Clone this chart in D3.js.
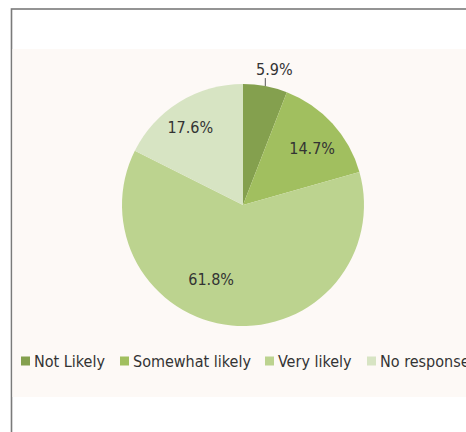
<!DOCTYPE html>
<html>
<head>
<meta charset="utf-8">
<script src="https://cdn.jsdelivr.net/npm/d3@7/dist/d3.min.js"></script>
<style>
  html, body { margin: 0; padding: 0; background: #ffffff; }
  svg { display: block; }
  text { font-family: "DejaVu Sans Condensed", "DejaVu Sans", sans-serif; font-stretch: condensed; fill: #333333; }
</style>
</head>
<body>
<svg id="chart" width="466" height="432"></svg>
<script>
// Survey responses (percent of respondents)
const categories = ["Not Likely", "Somewhat likely", "Very likely", "No response"];
const shares = [5.9, 14.7, 61.8, 17.6];
const palette = ["#84a04e", "#a1bf5f", "#bcd38f", "#d7e4c3"];

const W = 466, H = 432;
const svg = d3.select("#chart");

// outer frame
svg.append("rect")
  .attr("x", 11.5).attr("y", 9).attr("width", W + 20).attr("height", H + 20)
  .attr("fill", "#ffffff").attr("stroke", "#7a7a7a").attr("stroke-width", 1.6);

// plot area background
svg.append("rect")
  .attr("x", 12.5).attr("y", 49).attr("width", W).attr("height", 348)
  .attr("fill", "#fdf9f6");

const cx = 243, cy = 205, R = 121;
const data = categories.map((c, i) => ({ name: c, value: shares[i] }));

const pie = d3.pie().value(d => d.value).sort(null);
const arcs = pie(data);
const arc = d3.arc().innerRadius(0).outerRadius(R);
const color = d3.scaleOrdinal().domain(categories).range(palette);

const g = svg.append("g").attr("transform", `translate(${cx},${cy})`);

g.selectAll("path.slice")
  .data(arcs)
  .join("path")
  .attr("class", "slice")
  .attr("d", arc)
  .attr("fill", d => color(d.data.name));

// label placement: radius fraction and angular nudge (radians) per slice
const labelRule = {
  "Not Likely": { outside: true },
  "Somewhat likely": { r: 0.74, shift: 0.05 },
  "Very likely": { r: 0.67, shift: 0.31 },
  "No response": { r: 0.78, shift: -0.04 }
};
const fmt = v => d3.format(".1f")(v) + "%";

arcs.forEach(a => {
  const rule = labelRule[a.data.name];
  const mid = (a.startAngle + a.endAngle) / 2;
  if (rule.outside) {
    const ex = Math.sin(mid) * R, ey = -Math.cos(mid) * R;
    g.append("line")
      .attr("x1", ex).attr("y1", ey)
      .attr("x2", ex).attr("y2", ey - 8)
      .attr("stroke", "#555555").attr("stroke-width", 1);
    g.append("text")
      .attr("x", ex + 9).attr("y", ey - 11)
      .attr("text-anchor", "middle")
      .attr("font-size", 16)
      .text(fmt(a.data.value));
  } else {
    const ang = mid + rule.shift, rr = R * rule.r;
    g.append("text")
      .attr("x", Math.sin(ang) * rr)
      .attr("y", -Math.cos(ang) * rr)
      .attr("dy", "0.36em")
      .attr("text-anchor", "middle")
      .attr("font-size", 16)
      .text(fmt(a.data.value));
  }
});

// legend
const legend = svg.append("g").attr("transform", "translate(21,361)");
const legendX = [0, 99, 244, 346];
categories.forEach((c, i) => {
  const item = legend.append("g").attr("transform", `translate(${legendX[i]},0)`);
  item.append("rect").attr("x", 0).attr("y", -4.5).attr("width", 9).attr("height", 9)
    .attr("fill", color(c));
  item.append("text").attr("x", 13).attr("y", 6).attr("font-size", 16).text(c);
});
</script>
</body>
</html>
